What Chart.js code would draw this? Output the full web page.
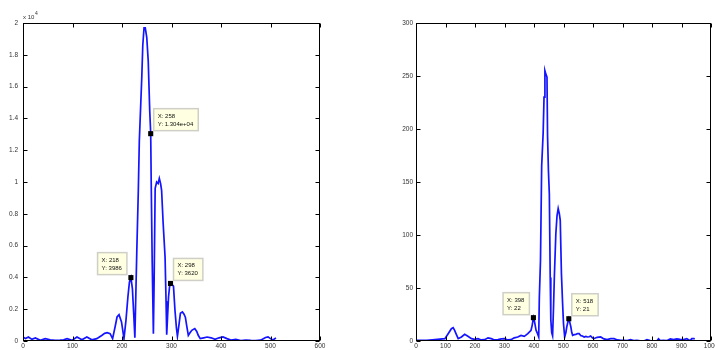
<!DOCTYPE html>
<html>
<head>
<meta charset="utf-8">
<script src="https://cdn.jsdelivr.net/npm/chart.js@4.4.0/dist/chart.umd.min.js"></script>
<style>
  html, body { margin: 0; padding: 0; background: #fff; width: 715px; height: 350px; overflow: hidden; }
  canvas { position: absolute; top: 0; }
  #left { left: 0; }
  #right { left: 360px; }
</style>
</head>
<body>
<canvas id="left" width="360" height="350"></canvas>
<canvas id="right" width="355" height="350"></canvas>
<script>
// ---- left spectrum (magnitude, raw units; axis shows x 10^4) ----
const leftX = [0, 5, 11, 18, 25, 35, 45, 55, 65, 75, 82, 89, 99, 109, 119, 129, 139, 149, 159, 165,
  170, 176, 181, 186, 190, 194, 199, 204, 208, 212, 215, 218, 221, 224, 226, 228, 230, 233, 235, 238,
  240, 242, 244.5, 247, 250, 253, 256, 258, 259, 261, 263.4, 265, 267, 270, 273, 275.4, 278, 280, 283, 287,
  289, 290.3, 292, 294, 296, 298, 301, 304, 307, 310, 312, 315, 318, 322, 325, 328, 331, 334, 337, 341,
  347, 351, 354, 358, 365, 372, 380, 388, 396, 404, 412, 420, 430, 440, 450, 460, 470, 480, 490, 495,
  500, 505, 511];
const leftY = [250, 150, 250, 100, 190, 40, 150, 80, 40, 60, 80, 150, 40, 250, 80, 250, 80, 150, 350, 480,
  520, 460, 150, 880, 1510, 1650, 1200, 150, 1300, 2800, 3700, 3986, 3300, 1500, 200, 3000, 5800, 9500, 12600, 15000,
  16600, 18600, 19700, 19700, 19100, 17600, 14500, 13040, 10000, 5000, 460, 4000, 9600, 10000, 9900, 10230, 9900, 9480, 7480, 5280,
  2500, 400, 1500, 2770, 3400, 3620, 3550, 3450, 1930, 800, 300, 1000, 1750, 1830, 1700, 1500, 900, 350, 500, 670,
  780, 600, 360, 150, 200, 250, 200, 100, 200, 260, 150, 60, 100, 30, 60, 40, 30, 50, 220, 260,
  150, 60, 200];
const leftTipX = [258, 218, 298];
const leftTipY = [13040, 3986, 3620];
const leftTipText = [['X: 258', 'Y: 1.304e+04'], ['X: 218', 'Y: 3986'], ['X: 298', 'Y: 3620']];
const leftTipSide = ['ur', 'ul', 'ur'];
const leftXTicks = [0, 100, 200, 300, 400, 500, 600];
const leftYTicks = [0, 2000, 4000, 6000, 8000, 10000, 12000, 14000, 16000, 18000, 20000];

// ---- right spectrum ----
const rightX = [0, 2, 36, 64, 98, 109, 120, 126, 131, 137, 143, 154, 165, 176, 188, 199, 210, 221, 233, 244,
  255, 266, 278, 289, 300, 311, 322, 333, 345, 356, 367, 379, 390, 394, 398, 402, 407, 412, 416, 418,
  422, 426, 431, 434, 437, 440, 444, 446, 449, 452, 455, 457, 460, 463, 466, 469, 474, 478, 482, 486,
  489, 493, 497, 500, 504, 508, 511, 515, 518, 521, 525, 528, 531, 536, 542, 548, 553, 559, 564, 570,
  576, 581, 587, 592, 598, 603, 614, 626, 637, 648, 660, 671, 683, 694, 705, 716, 727, 738, 749, 760,
  772, 783, 794, 806, 817, 822, 828, 839, 850, 862, 873, 884, 895, 907, 918, 929, 935, 942, 945];
const rightY = [1, 0.6, 0.6, 1.3, 2.2, 6.9, 11.6, 12.6, 10, 6, 2.2, 3.8, 6.3, 4.4, 2.2, 1.5, 2.2, 1, 1.3, 3,
  2.2, 1, 1.3, 2, 2.2, 1, 1.3, 3, 3.8, 5.3, 4.4, 6.9, 10.1, 15, 22, 18, 10.1, 6.9, 3.8, 40,
  76, 165, 196, 230, 255, 252, 249, 193, 160, 139, 60, 20, 8, 5, 30, 60.7, 101, 118, 125, 120,
  113.8, 63.5, 35, 16.4, 3.8, 8, 13.2, 18, 21, 18, 13.2, 8, 5.3, 6, 6.3, 7, 6.9, 5, 4.7, 3.8,
  4.4, 3.8, 4, 4.7, 3, 2.2, 3.5, 3.8, 2, 1.3, 2.2, 2.2, 1, 0.6, 0.6, 0.3, 1.3, 0.3, 0.6, 0.2,
  0, 1.2, 0.3, 0, 0.3, 2, 0.3, 0.6, 0.3, 2, 1.3, 2, 1.5, 1.3, 2.2, 0.3, 2.2, 2.2, 2];
const rightTipX = [398, 518];
const rightTipY = [22, 21];
const rightTipText = [['X: 398', 'Y: 22'], ['X: 518', 'Y: 21']];
const rightTipSide = ['ul', 'ur'];
const rightXTicks = [0, 100, 200, 300, 400, 500, 600, 700, 800, 900, 1000];
const rightYTicks = [0, 50, 100, 150, 200, 250, 300];

const FONT = '"Liberation Sans", Arial, sans-serif';

// Box outline with inward ticks on all four sides
const frameTicks = {
  id: 'frameTicks',
  afterDatasetsDraw(chart) {
    const { ctx, chartArea: a, scales } = chart;
    const L = Math.round(a.left) + 0.5, R = Math.round(a.right) - 0.5;
    const T = Math.round(a.top) + 0.5, B = Math.round(a.bottom) - 0.5;
    ctx.save();
    ctx.strokeStyle = '#000';
    ctx.lineWidth = 1;
    ctx.strokeRect(L, T, R - L, B - T);
    ctx.beginPath();
    const len = 4;
    scales.x.ticks.forEach(t => {
      const px = Math.round(scales.x.getPixelForValue(t.value)) + 0.5;
      ctx.moveTo(px, B); ctx.lineTo(px, B - len);
      ctx.moveTo(px, T); ctx.lineTo(px, T + len);
    });
    scales.y.ticks.forEach(t => {
      const py = Math.round(scales.y.getPixelForValue(t.value)) + 0.5;
      ctx.moveTo(L, py); ctx.lineTo(L + len, py);
      ctx.moveTo(R, py); ctx.lineTo(R - len, py);
    });
    ctx.stroke();
    ctx.restore();
  }
};

// Data-tip boxes next to the marked points
const dataTips = {
  id: 'dataTips',
  afterDraw(chart, args, opts) {
    const { ctx, scales } = chart;
    ctx.save();
    ctx.font = '6px ' + FONT;
    ctx.textBaseline = 'alphabetic';
    opts.xs.forEach((xv, i) => {
      const px = scales.x.getPixelForValue(xv);
      const py = scales.y.getPixelForValue(opts.ys[i]);
      const lines = opts.text[i];
      const w = Math.max(...lines.map(s => ctx.measureText(s).width)) + 9;
      const h = 22;
      const left = opts.side[i] === 'ur' ? px + 3 : px - 4 - w;
      const top = py - 3 - h;
      ctx.fillStyle = '#ffffe1';
      ctx.fillRect(left, top, w, h);
      ctx.strokeStyle = '#cfcfc8';
      ctx.lineWidth = 1.5;
      ctx.strokeRect(left, top, w, h);
      ctx.fillStyle = '#111';
      ctx.fillText(lines[0], left + 4, top + 9);
      ctx.fillText(lines[1], left + 4, top + 17);
    });
    ctx.restore();
  }
};

// "x 10^4" multiplier above the left y axis
const expLabel = {
  id: 'expLabel',
  afterDraw(chart, args, opts) {
    if (!opts.show) return;
    const { ctx, chartArea: a } = chart;
    ctx.save();
    ctx.fillStyle = '#333';
    ctx.font = '6px ' + FONT;
    ctx.fillText('x 10', a.left, a.top - 4);
    ctx.font = '5px ' + FONT;
    ctx.fillText('4', a.left + 12, a.top - 8);
    ctx.restore();
  }
};

function pairs(xs, ys) { return xs.map((x, i) => ({ x, y: ys[i] })); }

function makeChart(id, cfg) {
  return new Chart(document.getElementById(id), {
    type: 'line',
    data: {
      datasets: [
        {
          data: pairs(cfg.tipX, cfg.tipY),
          showLine: false,
          pointStyle: 'rect',
          pointRadius: 3.6,
          pointBackgroundColor: '#000',
          pointBorderColor: '#000',
          pointBorderWidth: 0,
          order: 0
        },
        {
          data: pairs(cfg.xs, cfg.ys),
          borderColor: 'rgb(20,20,255)',
          borderWidth: 1.7,
          pointRadius: 0,
          tension: 0,
          fill: false,
          order: 1
        }
      ]
    },
    options: {
      responsive: false,
      animation: false,
      events: [],
      layout: { padding: cfg.padding },
      plugins: {
        legend: { display: false },
        tooltip: { enabled: false },
        dataTips: { xs: cfg.tipX, ys: cfg.tipY, text: cfg.tipText, side: cfg.tipSide },
        expLabel: { show: cfg.showExp }
      },
      scales: {
        x: {
          type: 'linear',
          min: cfg.xTicks[0],
          max: cfg.xTicks[cfg.xTicks.length - 1],
          afterBuildTicks: s => { s.ticks = cfg.xTicks.map(v => ({ value: v })); },
          grid: { display: false, drawTicks: false },
          border: { display: false },
          ticks: {
            autoSkip: false, maxRotation: 0, padding: 1,
            color: '#333', font: { family: FONT, size: cfg.fontSize },
            callback: v => String(v)
          },
          afterFit: s => { s.height = 9; s.paddingLeft = 0; s.paddingRight = 0; }
        },
        y: {
          type: 'linear',
          min: cfg.yTicks[0],
          max: cfg.yTicks[cfg.yTicks.length - 1],
          afterBuildTicks: s => { s.ticks = cfg.yTicks.map(v => ({ value: v })); },
          grid: { display: false, drawTicks: false },
          border: { display: false },
          ticks: {
            autoSkip: false, padding: cfg.yPad,
            color: '#333', font: { family: FONT, size: cfg.fontSize },
            callback: cfg.yFmt
          },
          afterFit: s => { s.width = cfg.yWidth; s.paddingTop = 0; s.paddingBottom = 0; }
        }
      }
    },
    plugins: [frameTicks, dataTips, expLabel]
  });
}

makeChart('left', {
  xs: leftX, ys: leftY,
  tipX: leftTipX, tipY: leftTipY, tipText: leftTipText, tipSide: leftTipSide,
  xTicks: leftXTicks, yTicks: leftYTicks,
  padding: { top: 23, right: 40, bottom: 0, left: 0 },
  yWidth: 23, yPad: 5, fontSize: 6.5, showExp: true,
  yFmt: v => String(Number((v / 10000).toFixed(1)))
});

makeChart('right', {
  xs: rightX, ys: rightY,
  tipX: rightTipX, tipY: rightTipY, tipText: rightTipText, tipSide: rightTipSide,
  xTicks: rightXTicks, yTicks: rightYTicks,
  padding: { top: 23, right: 2.3, bottom: 0, left: 0 },
  yWidth: 56, yPad: 3, fontSize: 6.5, showExp: false,
  yFmt: v => String(v)
});
</script>
</body>
</html>
